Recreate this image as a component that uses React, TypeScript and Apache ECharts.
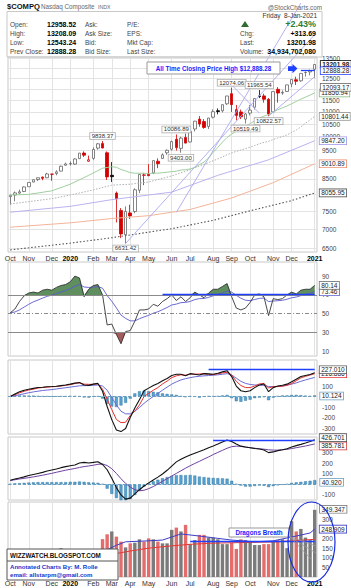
import React, { useEffect, useRef } from 'react';
import * as echarts from 'echarts';

// ---------- DATA (weekly) ----------
const weeks = [
  '2019-10-04','2019-10-11','2019-10-18','2019-10-25','2019-11-01','2019-11-08','2019-11-15','2019-11-22','2019-11-29',
  '2019-12-06','2019-12-13','2019-12-20','2019-12-27','2020-01-03','2020-01-10','2020-01-17','2020-01-24','2020-01-31',
  '2020-02-07','2020-02-14','2020-02-21','2020-02-28','2020-03-06','2020-03-13','2020-03-20','2020-03-27','2020-04-03',
  '2020-04-09','2020-04-17','2020-04-24','2020-05-01','2020-05-08','2020-05-15','2020-05-22','2020-05-29','2020-06-05',
  '2020-06-12','2020-06-19','2020-06-26','2020-07-02','2020-07-10','2020-07-17','2020-07-24','2020-07-31','2020-08-07',
  '2020-08-14','2020-08-21','2020-08-28','2020-09-04','2020-09-11','2020-09-18','2020-09-25','2020-10-02','2020-10-09',
  '2020-10-16','2020-10-23','2020-10-30','2020-11-06','2020-11-13','2020-11-20','2020-11-27','2020-12-04','2020-12-11',
  '2020-12-18','2020-12-24','2020-12-31','2021-01-08'
];
const opens = [7940,7990,8050,8100,8250,8400,8480,8560,8540,8660,8680,8760,8960,9010,9000,9190,9390,9100,9200,9570,9740,9400,8620,8050,7530,6860,7460,7500,8140,8620,8650,8700,9100,9200,9400,9530,9900,9560,9970,9800,10300,10700,10600,10400,10780,11050,11050,11350,11800,11100,11000,10700,10950,11200,11700,11700,11550,11000,12000,11830,11900,12250,12450,12400,12800,12830,12960];
const highs = [8000,8100,8160,8260,8390,8480,8545,8580,8705,8670,8790,8950,9050,9093,9204,9390,9451,9300,9600,9760,9838.37,9450,9070,8100,7600,7650,7700,8200,8670,8700,9000,9130,9200,9380,9520,9850,10086.89,10000,10120,10220,10630,10824,10700,10750,11110,11150,11320,11700,12074.06,11300,11100,10950,11300,11600,11965.54,11800,11600,11900,12100,11950,12210,12470,12600,12760,12850,12940,13208.09];
const lows = [7700,7800,8030,8080,8250,8390,8430,8460,8530,8440,8620,8750,8950,8950,8980,9180,9250,9080,9150,9510,9560,8466,8400,7190,6770,6631.42,7290,7450,8050,8300,8600,8660,8860,9180,9330,9480,9480,9403,9750,9780,10200,10390,10310,10300,10730,10900,10980,11300,11000,10650,10700,10519.49,10850,11100,11600,11400,10822.57,10960,11400,11750,11880,12100,12200,12350,12600,12660,12543.24];
const closes = [7982,8057,8089,8243,8386,8475,8540,8520,8665,8657,8735,8925,9006,9020,9179,9389,9315,9151,9520,9731,9577,8567,8575,7875,6880,7502,7373,8153,8650,8634,8605,9121,9015,9325,9490,9814,9589,9946,9757,10208,10617,10503,10363,10745,11011,11019,11312,11696,11313,10854,10793,10914,11075,11580,11672,11548,10912,11895,11829,11855,12206,12464,12378,12756,12805,12888.28,13201.98];
const volumes = [105,100,102,110,108,104,106,100,80,104,112,150,70,102,112,118,115,126,124,118,
  197,222,237,210,184,154,175,178,196,184,201,196,184,175,175,245,257,237,271,171,
  192,219,219,205,205,196,171,171,178,146,196,192,184,166,166,171,171,184,192,196,
  150,290,237,250,205,192,349.35];
const rsi = [51,55,63,69,72,73,72,75,76,75,78,80,81,84,90,88,68,76,80,81,
  70,38,39,28,18,31,32,42,54,54,55,60,58,63,66,70,64,68,63,67,
  73,70,67,72,76,76,79,82,68,56,54,56,62,70,71,68,48,66,65,66,
  70,73,71,75,76,76,80.14];
const macdLine = [0,25,45,60,70,78,86,89,93,95,98,104,110,118,128,133,110,106,118,125,
  50,-95,-220,-318,-334,-305,-200,-110,-30,55,80,105,125,150,172,200,212,212,198,218,
  212,205,218,216,212,222,235,246,190,100,55,45,55,85,110,120,46,85,100,108,
  118,140,165,190,200,210,227.01];
const macdSignal = [0,17,35,50,62,70,81,86,90,93,96,101,107,113,123,130,118,116,116,122,
  70,-25,-125,-218,-249,-245,-180,-140,-80,0,30,60,85,120,147,180,197,207,203,215,
  212,215,218,211,209,217,225,231,205,145,105,85,85,100,120,125,81,95,95,98,
  108,125,150,178,192,205,216.89];
const macdSlow = [0,8,17,27,36,44,51,57,62,66,72,78,84,90,96,102,104,104,107,
  110,100,60,-10,-80,-140,-165,-165,-140,-105,-65,-30,0,30,60,90,118,140,158,170,
  180,188,193,197,200,203,207,212,218,205,175,145,125,115,110,108,106,95,94,96,
  100,108,118,130,145,158,170,182];
const macdHist = [0,8,10,10,8,8,5,3,3,2,2,3,3,5,5,3,-8,-10,2,3,
  -20,-70,-95,-100,-85,-60,-20,30,50,55,50,45,40,30,25,20,15,5,-5,3,
  0,-10,0,5,3,5,10,15,-15,-45,-50,-40,-30,-15,-10,-5,-35,-10,5,10,
  10,15,15,12,8,5,10.124];
const ppoLine = [40,52,62,72,85,95,105,115,128,138,148,160,170,178,186,205,210,205,210,217,
  190,140,60,-30,-100,-140,-130,-90,-50,-15,15,43,70,100,135,175,215,240,262,280,
  297,313,330,350,367,385,405,424,410,385,365,357,350,342,338,329,303,310,322,330,
  340,357,370,382,395,410,426.7];
const ppoSignal = [38,45,52,58,65,72,80,88,97,106,116,126,136,144,152,162,170,176,183,192,
  195,180,150,105,55,10,-25,-50,-60,-55,-40,-20,5,30,55,80,105,130,155,178,
  200,220,242,262,285,305,325,345,360,365,362,356,350,345,340,336,330,327,327,330,
  335,342,350,358,366,376,385.8];
const ppoHist = [5,10,12,15,18,20,22,22,22,22,22,22,22,25,25,28,25,20,18,15,
  5,-40,-90,-130,-160,-160,-140,-100,-60,-20,10,30,45,60,70,80,88,90,88,90,
  85,75,70,65,62,60,58,55,35,5,-10,-20,-20,-15,-10,-12,-25,-15,-8,-2,
  5,15,20,25,30,35,40.92];

// long moving averages read at sample weeks [weekIndex, price]
const sma20Early = [[0,7990],[4,8010],[9,8120],[13,8330],[17,8620]];
const sma40Early = [[0,7720],[4,7790],[9,7880],[13,7990],[18,8150],[22,8300],[26,8330],[30,8400],[35,8600]];
const maPurple = [[0,7480],[13,7650],[22,7850],[35,8080],[45,8620],[56,9150],[66,9847.2]];
const maOrange = [[0,7060],[13,7180],[22,7300],[30,7380],[39,7560],[48,7900],[57,8380],[66,9010.89]];
const ma200 = [[0,6470],[13,6640],[22,6780],[35,7020],[44,7250],[52,7520],[61,7820],[66,8055.95]];
const volMaRed = [[0,100],[13,104],[22,118],[26,135],[30,150],[35,162],[39,170],[44,176],[48,178],[52,180],[57,182],[61,188],[66,196]];
const volMaBlue = [[0,105],[13,110],[18,118],[20,130],[23,165],[25,183],[29,187],[33,192],[37,224],[41,213],[45,201],[48,192],[53,183],[57,188],[60,203],[63,218],[65,229],[66,248.9]];
const trendLines = [
  { pts: [[25,6631.42],[66,14809]], clip: false },
  { pts: [[36,7475],[63,16720]], clip: false },
  { pts: [[48,12200],[54,10950]], clip: true },
  { pts: [[56,10822.57],[66,12600]], clip: true },
];
const priceTicks = [6500,7000,7500,8000,8500,9000,9500,10000,10500,11000,11500,12000,12500,13000,13500];
const rsiTicks = [10,30,50,70,90];
const macdTicks = [-300,-200,-100,100];
const ppoTicks = [-100,100,200,300];
const volTicks = [50,100,150,200,250,300];
const priceNotes = [
  { w: 20, p: 9838.37, text: '9838.37', pos: 'top' },
  { w: 25, p: 6631.42, text: '6631.42', pos: 'bottom' },
  { w: 36, p: 10086.89, text: '10086.89', pos: 'top' },
  { w: 37, p: 9403.0, text: '9403.00', pos: 'bottom' },
  { w: 48, p: 12074.06, text: '12074.06', pos: 'top' },
  { w: 51, p: 10519.49, text: '10519.49', pos: 'bottom' },
  { w: 54, p: 11965.54, text: '11965.54', pos: 'top' },
  { w: 56, p: 10822.57, text: '10822.57', pos: 'bottom' },
];
const allTimeHigh = 12888.28;
const MONTHS = ['Jan','Feb','Mar','Apr','May','Jun','Jul','Aug','Sep','Oct','Nov','Dec'];

// ---------- helpers ----------
const FONT = 'Liberation Sans, Arial, Helvetica, sans-serif';
const L = (v: number) => Math.log10(v);
const ema = (arr: number[], n: number) => {
  const k = 2 / (n + 1); let e = arr[0];
  return arr.map((v, i) => (e = i === 0 ? v : e + k * (v - e)));
};
const smaFrom = (arr: number[], n: number, start: number) => {
  const out: number[][] = [];
  for (let i = start; i < arr.length; i++) {
    let s = 0; for (let j = i - n + 1; j <= i; j++) s += arr[j];
    out.push([i, s / n]);
  }
  return out;
};
const monthStarts = weeks.map((w, i) => (i === 0 || w.slice(5, 7) !== weeks[i - 1].slice(5, 7) ? i : -1)).filter((i) => i >= 0);
const monthSet = new Set(monthStarts);
const isMonth = (i: number) => monthSet.has(i);
const fmtMonth = (v: string) => {
  const m = +v.slice(5, 7);
  return m === 1 ? `{b|${v.slice(0, 4)}}` : MONTHS[m - 1];
};
const boxLabel = (text: string, border: string, extra: any = {}) => ({
  show: true, formatter: text, fontSize: 6.5, fontFamily: FONT, color: '#222',
  backgroundColor: '#fff', borderColor: border, borderWidth: 0.8, padding: [0, 1.5, 0, 1.5], ...extra,
});

function buildOption() {
  const last = weeks.length - 1;
  const W = (i: number) => weeks[i];
  const grids = [
    { top: 57, height: 195 }, { top: 262, height: 94 }, { top: 360, height: 74 }, { top: 437, height: 63 }, { top: 502, height: 75 },
  ].map((g) => ({ left: 8, width: 309, ...g, show: true, borderColor: '#c8c8c8', borderWidth: 1, backgroundColor: '#fff' }));

  const xAxis = grids.map((_, gi) => ({
    type: 'category', gridIndex: gi, data: weeks, boundaryGap: true,
    axisLine: { show: false },
    axisTick: { show: false, alignWithLabel: true, interval: isMonth },
    splitLine: { show: true, interval: isMonth, alignWithLabel: true, lineStyle: { color: '#e3e3e3', width: 1 } },
    axisLabel: {
      show: gi === 0 || gi === 4, interval: isMonth, formatter: fmtMonth, fontSize: 7, color: '#333', margin: 3, fontFamily: FONT,
      rich: { b: { fontWeight: 'bold', fontSize: 7, color: '#000', fontFamily: FONT } },
    },
  }));

  const yBase = (gi: number, min: number, max: number, ticks: number[], fmt?: (v: number) => string, split = false) => ({
    type: 'value', gridIndex: gi, position: 'right', min, max,
    axisLine: { show: false },
    axisTick: { show: false, customValues: ticks },
    splitLine: { show: split, lineStyle: { color: '#e3e3e3', width: 1 } },
    axisLabel: { customValues: ticks, fontSize: 6.5, color: '#444', margin: 5, fontFamily: FONT, ...(fmt ? { formatter: fmt } : {}) },
  });
  const yAxis = [
    yBase(0, L(6418), L(13588), priceTicks.map(L), (v: number) => String(Math.round(Math.pow(10, v))), true),
    yBase(1, 5, 105, rsiTicks),
    yBase(2, -357, 348, macdTicks),
    yBase(3, -148, 452, ppoTicks),
    yBase(4, 0, 390, volTicks),
  ];

  const ln = (xi: number, data: any[], color: string, width: number, extra: any = {}) => ({
    type: 'line', xAxisIndex: xi, yAxisIndex: xi, data, symbol: 'none', showSymbol: false, silent: true,
    lineStyle: { color, width, ...(extra.lineStyle || {}) },
    ...Object.fromEntries(Object.entries(extra).filter(([k]) => k !== 'lineStyle')),
  });
  const logPts = (pts: number[][]) => pts.map(([i, v]) => [i, L(v)]);

  const candleData = weeks.map((_, i) => {
    const o = opens[i], c = closes[i];
    const prev = i === 0 ? o : closes[i - 1];
    const up = c >= o, down = c < prev;
    let fill = '#fff', bc = '#666';
    if (up && down) { fill = '#fff'; bc = '#d40000'; }
    if (!up && down) { fill = '#d40000'; bc = '#d40000'; }
    if (!up && !down) { fill = '#000'; bc = '#000'; }
    return {
      value: [L(o), L(c), L(lows[i]), L(highs[i])],
      itemStyle: { color: fill, color0: fill, borderColor: bc, borderColor0: bc, borderWidth: 0.8 },
    };
  });

  const ema3 = ema(closes, 3), ema10 = ema(closes, 10);
  const sma20 = [...sma20Early, ...smaFrom(closes, 20, 19)];
  const sma40 = [...sma40Early, ...smaFrom(closes, 40, 39)];

  const blue = '#1f3fff';
  const seg = (i0: number, i1: number, v: number) => [{ coord: [W(i0), v] }, { coord: [W(i1), v] }];

  const series: any[] = [
    // ---- price panel
    ln(0, logPts(ma200), '#555', 1.1, { lineStyle: { type: [1.5, 2] }, endLabel: boxLabel('8055.95', '#555', { distance: 5 }) }),
    ln(0, logPts(maOrange), '#f3b49a', 1, { endLabel: boxLabel('9010.89', '#f08a6a', { distance: 5 }) }),
    ln(0, logPts(maPurple), '#bab3ef', 1, { endLabel: boxLabel('9847.20', '#9f95e6', { distance: 5 }) }),
    ln(0, logPts(sma40), '#b0b0b0', 1, { lineStyle: { type: [1.5, 1.5] }, endLabel: boxLabel('10801.44', '#999', { distance: 5 }) }),
    ln(0, logPts(sma20), '#9fcf9f', 1, { endLabel: boxLabel('11856.94', '#7fb87f', { distance: 5 }) }),
    ...trendLines.map((t) => ln(0, logPts(t.pts), '#a9a9f2', 0.9, { clip: t.clip })),
    {
      type: 'candlestick', xAxisIndex: 0, yAxisIndex: 0, barWidth: 3, silent: true, data: candleData,
      markPoint: {
        symbol: 'circle', symbolSize: 0, silent: true,
        data: [
          ...priceNotes.map((n) => ({
            coord: [W(n.w), L(n.p)], value: n.text,
            label: boxLabel(n.text, '#aaa', { position: n.pos, distance: 2, fontSize: 6, color: '#333' }),
          })),
          { coord: [W(last), L(closes[last])], label: boxLabel('13201.98', '#000', { position: 'right', distance: 6, fontWeight: 'bold' }) },
          { coord: [W(last), L(allTimeHigh)], label: boxLabel('12888.28', blue, { position: 'right', distance: 6 }) },
          { coord: [W(last), L(12093.17)], label: boxLabel('12093.17', '#666', { position: 'right', distance: 6 }) },
        ],
      },
      markLine: {
        symbol: ['none', 'none'], silent: true, label: { show: false },
        lineStyle: { color: blue, width: 1.3, type: 'solid' },
        data: [seg(63, last, L(allTimeHigh))],
      },
    },
    ln(0, ema10, '#1e6b1e', 1.1, { endLabel: boxLabel('12601.22', '#1e6b1e', { distance: 5 }) }),
    ln(0, ema3, '#10107e', 1.3),

    // ---- RSI panel
    ln(1, rsi.map(() => 70), 'rgba(0,0,0,0)', 0, { stack: 'g' }),
    ln(1, rsi.map((v) => Math.max(v, 70) - 70), 'rgba(0,0,0,0)', 0, { stack: 'g', areaStyle: { color: '#5f8f5f', opacity: 1 } }),
    ln(1, rsi.map((v) => Math.min(v, 30)), 'rgba(0,0,0,0)', 0, { stack: 'r' }),
    ln(1, rsi.map((v) => 30 - Math.min(v, 30)), 'rgba(0,0,0,0)', 0, { stack: 'r', areaStyle: { color: '#a35b5b', opacity: 1 } }),
    ln(1, ema(rsi, 9), '#5a5ad0', 0.9, { endLabel: boxLabel('73.46', '#5a5ad0', { distance: 5 }) }),
    ln(1, rsi, '#333', 0.9, {
      endLabel: boxLabel('80.14', '#777', { distance: 5 }),
      markLine: {
        symbol: ['none', 'none'], silent: true, label: { show: false },
        data: [
          { yAxis: 70, lineStyle: { color: '#8a8a8a', width: 1, type: 'solid' } },
          { yAxis: 30, lineStyle: { color: '#8a8a8a', width: 1, type: 'solid' } },
          { yAxis: 50, lineStyle: { color: '#8a8a8a', width: 1, type: [4, 2, 1, 2] } },
          [{ coord: [W(33), 71], lineStyle: { color: blue, width: 1.3, type: 'solid' } }, { coord: [W(last), 71] }],
        ],
      },
    }),

    // ---- MACD panel
    {
      type: 'bar', xAxisIndex: 2, yAxisIndex: 2, barWidth: 3, silent: true,
      itemStyle: { color: '#55a3d3', borderColor: '#2e6c96', borderWidth: 0.4 },
      data: macdHist.map((v, i) => (i === last ? { value: v, label: boxLabel('10.124', '#6a9fc0', { position: 'right', distance: 4 }) } : v)),
      markLine: {
        symbol: ['none', 'none'], silent: true, label: { show: false },
        data: [{ yAxis: 0, lineStyle: { color: '#6a9fc0', width: 1, type: [3, 2] } }],
      },
    },
    ln(2, macdSlow, '#6a6ad6', 1),
    ln(2, macdSignal, '#e43030', 1, { endLabel: boxLabel('216.886', '#e43030', { distance: 5 }) }),
    ln(2, macdLine, '#111', 1.1, {
      endLabel: boxLabel('227.010', '#555', { distance: 5, offset: [0, -3] }),
      markLine: {
        symbol: ['none', 'none'], silent: true, label: { show: false },
        lineStyle: { color: blue, width: 1.3, type: 'solid' },
        data: [seg(43, last, 258)],
      },
    }),

    // ---- second MACD panel
    {
      type: 'bar', xAxisIndex: 3, yAxisIndex: 3, barWidth: 3, silent: true,
      itemStyle: { color: '#55a3d3', borderColor: '#2e6c96', borderWidth: 0.4 },
      data: ppoHist.map((v, i) => (i === last ? { value: v, label: boxLabel('40.920', '#6a9fc0', { position: 'right', distance: 4 }) } : v)),
      markLine: {
        symbol: ['none', 'none'], silent: true, label: { show: false },
        data: [{ yAxis: 0, lineStyle: { color: '#6a9fc0', width: 1, type: [3, 2] } }],
      },
    },
    ln(3, ppoSignal, '#7040a0', 1, { endLabel: boxLabel('385.781', '#d04040', { distance: 5, offset: [0, 2] }) }),
    ln(3, ppoLine, '#111', 1.1, {
      endLabel: boxLabel('426.701', '#555', { distance: 5, offset: [0, -2] }),
      markLine: {
        symbol: ['none', 'none'], silent: true, label: { show: false },
        lineStyle: { color: blue, width: 1.3, type: 'solid' },
        data: [seg(44, last, 424)],
      },
    }),

    // ---- volume panel
    {
      type: 'bar', xAxisIndex: 4, yAxisIndex: 4, barWidth: 3.4, silent: true,
      data: volumes.map((v, i) => {
        const down = i > 0 && closes[i] < closes[i - 1];
        const item: any = { value: v, itemStyle: { color: down ? '#e46c6c' : '#7b7b7b' } };
        if (i === last) item.label = boxLabel('349.347', '#777', { position: [7, -4] });
        return item;
      }),
      markLine: {
        symbol: ['none', 'none'], silent: true, label: { show: false },
        lineStyle: { color: blue, width: 1.3, type: 'solid' },
        data: [seg(39, last, 187)],
      },
    },
    ln(4, volMaRed, '#e53935', 1),
    ln(4, volMaBlue, '#3d3dc8', 1, { endLabel: boxLabel('248.909', '#3d3dc8', { distance: 5 }) }),
  ];

  // ---- page annotations
  const txt = (x: number, y: number, text: string, o: any = {}) => ({
    type: 'text', x, y, z: 100, silent: true,
    style: {
      text, fill: o.fill || '#333', fontSize: o.size || 6.5, fontWeight: o.bold ? 'bold' : 'normal', fontFamily: FONT,
      align: o.align || 'left', textAlign: o.align || 'left', verticalAlign: 'middle', textVerticalAlign: 'middle',
    },
  });
  const rect = (x: number, y: number, w: number, h: number, stroke: string, fill = '#fff', lw = 1) => ({
    type: 'rect', z: 99, silent: true, shape: { x, y, width: w, height: h }, style: { fill, stroke, lineWidth: lw },
  });
  const seg2 = (x1: number, y1: number, x2: number, y2: number, stroke: string, lw = 0.8) => ({
    type: 'line', z: 99, silent: true, shape: { x1, y1, x2, y2 }, style: { stroke, lineWidth: lw },
  });
  const rows = [24, 33, 42, 51];
  const graphic: any[] = [
    rect(7, 11.5, 315, 45.5, '#c8c8c8', 'none'),
    txt(7, 6.5, '$COMPQ', { bold: true, size: 7.6, fill: '#111' }),
    txt(41, 6.8, 'Nasdaq Composite', { size: 6.3, fill: '#666' }),
    txt(98, 7, 'INDX', { size: 5.3, fill: '#666' }),
    txt(322, 7, '@StockCharts.com', { size: 6.3, fill: '#666', align: 'right' }),
    txt(317, 15.5, 'Friday  8-Jan-2021', { align: 'right', fill: '#333' }),
    ...['Open:', 'High:', 'Low:', 'Prev Close:'].map((s, i) => txt(10, rows[i], s, { fill: '#444' })),
    ...['12958.52', '13208.09', '12543.24', '12888.28'].map((s, i) => txt(47, rows[i], s, { bold: true, size: 7, fill: '#000' })),
    ...['Ask:', 'Ask Size:', 'Bid:', 'Bid Size:'].map((s, i) => txt(85, rows[i], s, { fill: '#444' })),
    ...['P/E:', 'EPS:', 'Mkt Cap:', 'Last Size:'].map((s, i) => txt(127, rows[i], s, { fill: '#444' })),
    { type: 'polygon', z: 100, silent: true, shape: { points: [[241, 27], [245, 21], [249, 27]] }, style: { fill: '#2e6b2e' } },
    txt(316, 24, '+2.43%', { bold: true, size: 9, fill: '#2e7d32', align: 'right' }),
    ...['Chg:', 'Last:', 'Volume:'].map((s, i) => txt(240, rows[i + 1], s, { fill: '#444' })),
    ...['+313.69', '13201.98', '34,934,702,080'].map((s, i) => txt(316, rows[i + 1], s, { bold: true, size: 7, fill: '#000', align: 'right' })),

    rect(147, 62, 133, 12, '#999'),
    txt(213.5, 68.3, 'All Time Closing Price High $12,888.28', { bold: true, size: 6.3, fill: '#1a1aff', align: 'center' }),
    {
      type: 'polygon', z: 100, silent: true,
      shape: { points: [[288, 66.3], [292.5, 66.3], [292.5, 64], [297.5, 68.6], [292.5, 73.2], [292.5, 71], [288, 71]] },
      style: { fill: '#2040ff' },
    },

    seg2(288, 536, 316, 546, '#999'),
    seg2(288, 536, 316, 553, '#999'),
    seg2(289, 536, 312, 560, '#999'),
    rect(229, 528, 60, 9, '#999'),
    txt(259, 532.6, 'Dragons Breath', { bold: true, size: 6.3, fill: '#1a1aff', align: 'center' }),
    { type: 'ellipse', z: 100, silent: true, shape: { cx: 311.5, cy: 542, rx: 23.5, ry: 40 }, style: { fill: 'none', stroke: '#1a2ae0', lineWidth: 1.2 } },

    rect(7, 549, 111, 31, '#555'),
    seg2(7, 561, 118, 561, '#555', 1),
    txt(10, 555.3, 'WIZZWATCH.BLOGSPOT.COM', { bold: true, size: 6.3, fill: '#111' }),
    txt(10, 566, 'Annotated Charts By: M. Rolle', { bold: true, size: 6.1, fill: '#2233cc' }),
    txt(10, 574.5, 'email: allstarpm@gmail.com', { bold: true, size: 6.1, fill: '#2233cc' }),
  ];

  return {
    animation: false,
    backgroundColor: '#fff',
    textStyle: { fontFamily: FONT },
    grid: grids, xAxis, yAxis, series, graphic,
  };
}

export default function App() {
  const ref = useRef<HTMLDivElement>(null);
  useEffect(() => {
    if (!ref.current) return;
    const chart = echarts.init(ref.current, null, { renderer: 'svg' });
    chart.setOption(buildOption() as any);
    return () => chart.dispose();
  }, []);
  return <div ref={ref} style={{ position: 'fixed', left: 0, top: 0, width: 351, height: 588, background: '#fff' }} />;
}
